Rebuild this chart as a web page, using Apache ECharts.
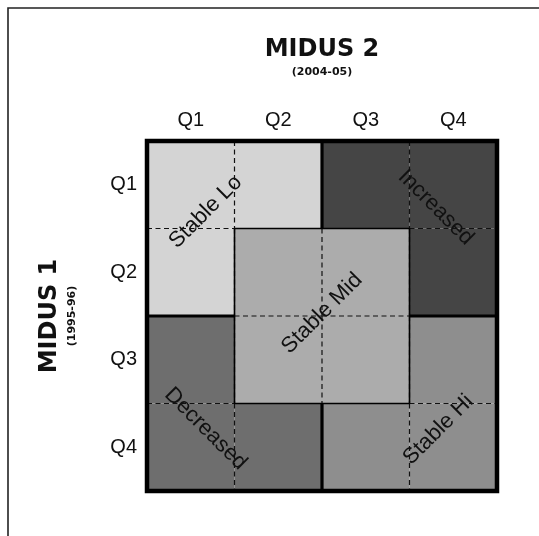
<!DOCTYPE html>
<html>
<head>
<meta charset="utf-8">
<script src="https://cdn.jsdelivr.net/npm/echarts@6/dist/echarts.min.js"></script>
<style>
html,body{margin:0;padding:0;background:#fff;}
#chart{width:539px;height:536px;}
</style>
</head>
<body>
<div id="chart"></div>
<script>
// Quartile categories
const midus2Quartiles = ['Q1', 'Q2', 'Q3', 'Q4'];   // columns (MIDUS 2, 2004-05)
const midus1Quartiles = ['Q1', 'Q2', 'Q3', 'Q4'];   // rows (MIDUS 1, 1995-96)
// Group names
const groupNames = ['Stable Lo', 'Increased', 'Stable Mid', 'Decreased', 'Stable Hi'];
// Group of each cell: row = MIDUS 1 quartile, column = MIDUS 2 quartile
const rowQ1 = [0, 0, 1, 1];
const rowQ2 = [0, 2, 2, 1];
const rowQ3 = [3, 2, 2, 4];
const rowQ4 = [3, 3, 4, 4];
const groupMatrix = [rowQ1, rowQ2, rowQ3, rowQ4];

// Styles
const groupColors = ['#d4d4d4', '#454545', '#acacac', '#6e6e6e', '#8e8e8e'];
const midGroup = 2;
// label anchor (in cell units) and rotation for each group label
const labelAnchors = [[0.67, 0.81, 1], [3.3, 0.76, -1], [2.0, 1.97, 1], [0.67, 3.29, -1], [3.33, 3.3, 1]];

const cells = [];
groupMatrix.forEach((row, r) => row.forEach((g, c) => cells.push([c, r, g])));

function cellBox(api, c, r) {
  const p = api.coord([c, r]);
  const s = api.size([1, 1]);
  return { x0: p[0] - s[0] / 2, y0: p[1] - s[1] / 2, x1: p[0] + s[0] / 2, y1: p[1] + s[1] / 2 };
}

function renderCell(params, api) {
  const c = api.value(0), r = api.value(1), g = api.value(2);
  const b = cellBox(api, c, r);
  return { type: 'rect', shape: { x: b.x0, y: b.y0, width: b.x1 - b.x0, height: b.y1 - b.y0 }, style: { fill: groupColors[g] } };
}

function renderDash(params, api) {
  const c = api.value(0), r = api.value(1);
  const b = cellBox(api, c, r);
  const children = [];
  const st = { stroke: '#111', lineWidth: 1.2, lineDash: [5, 3.5] };
  if (c < 3) children.push({ type: 'line', shape: { x1: b.x1, y1: b.y0, x2: b.x1, y2: b.y1 }, style: st });
  if (r < 3) children.push({ type: 'line', shape: { x1: b.x0, y1: b.y1, x2: b.x1, y2: b.y1 }, style: st });
  return { type: 'group', children };
}

function renderBorder(params, api) {
  const c = api.value(0), r = api.value(1), g = api.value(2);
  const b = cellBox(api, c, r);
  const children = [];
  function w(g2) { return (g === midGroup || g2 === midGroup) ? 1.6 : 3.2; }
  if (c < 3) {
    const g2 = groupMatrix[r][c + 1];
    if (g2 !== g) children.push({ type: 'line', shape: { x1: b.x1, y1: b.y0, x2: b.x1, y2: b.y1 }, style: { stroke: '#000', lineWidth: w(g2) } });
  }
  if (r < 3) {
    const g2 = groupMatrix[r + 1][c];
    if (g2 !== g) children.push({ type: 'line', shape: { x1: b.x0, y1: b.y1, x2: b.x1, y2: b.y1 }, style: { stroke: '#000', lineWidth: w(g2) } });
  }
  return { type: 'group', children };
}

function renderOuter(params, api) {
  const a = cellBox(api, 0, 0), z = cellBox(api, 3, 3);
  return { type: 'rect', shape: { x: a.x0, y: a.y0, width: z.x1 - a.x0, height: z.y1 - a.y0 }, style: { fill: null, stroke: '#000', lineWidth: 4.5 } };
}

function renderLabel(params, api) {
  const g = params.dataIndex;
  const an = labelAnchors[g];
  const o = cellBox(api, 0, 0);
  const s = api.size([1, 1]);
  return {
    type: 'text', x: o.x0 + an[0] * s[0], y: o.y0 + an[1] * s[1], rotation: an[2] * Math.PI / 4,
    style: { text: groupNames[g], font: '22px "Liberation Sans", Arial, sans-serif', fill: '#111', align: 'center', verticalAlign: 'middle' }
  };
}

const nameRich = {
  a: { fontSize: 24, fontWeight: 'bold', fontFamily: '"DejaVu Sans", sans-serif', color: '#111', lineHeight: 30 },
  b: { fontSize: 11, fontWeight: 'bold', fontFamily: '"DejaVu Sans", sans-serif', color: '#111', lineHeight: 14 }
};

const chart = echarts.init(document.getElementById('chart'), null, { renderer: 'canvas' });
chart.setOption({
  animation: false,
  backgroundColor: '#fff',
  textStyle: { fontFamily: '"Liberation Sans", Arial, sans-serif' },
  graphic: [{ type: 'polyline', shape: { points: [[8, 600], [8, 8], [600, 8]] }, style: { stroke: '#222', lineWidth: 1.6, fill: null } }],
  grid: { left: 147, top: 141, right: 42, bottom: 45 },
  xAxis: {
    type: 'category', data: midus2Quartiles, position: 'top',
    axisLine: { show: false }, axisTick: { show: false }, splitLine: { show: false },
    axisLabel: { fontSize: 20, color: '#111', margin: 11 },
    name: '{a|MIDUS 2}\n{b|(2004-05)}', nameLocation: 'middle', nameGap: 62,
    nameTextStyle: { rich: nameRich }
  },
  yAxis: {
    type: 'category', data: midus1Quartiles, inverse: true,
    axisLine: { show: false }, axisTick: { show: false }, splitLine: { show: false },
    axisLabel: { fontSize: 20, color: '#111', margin: 10 },
    name: '{a|MIDUS 1}\n{b|(1995-96)}', nameLocation: 'middle', nameGap: 68, nameRotate: 90,
    nameTextStyle: { rich: nameRich }
  },
  series: [
    { type: 'custom', renderItem: renderCell, data: cells, z: 1, silent: true },
    { type: 'custom', renderItem: renderDash, data: cells, z: 2, silent: true },
    { type: 'custom', renderItem: renderBorder, data: cells, z: 3, silent: true },
    { type: 'custom', renderItem: renderOuter, data: [[0, 0]], z: 4, silent: true },
    { type: 'custom', renderItem: renderLabel, data: groupNames.map((n, i) => [0, 0, i]), z: 5, silent: true }
  ]
});
</script>
</body>
</html>
